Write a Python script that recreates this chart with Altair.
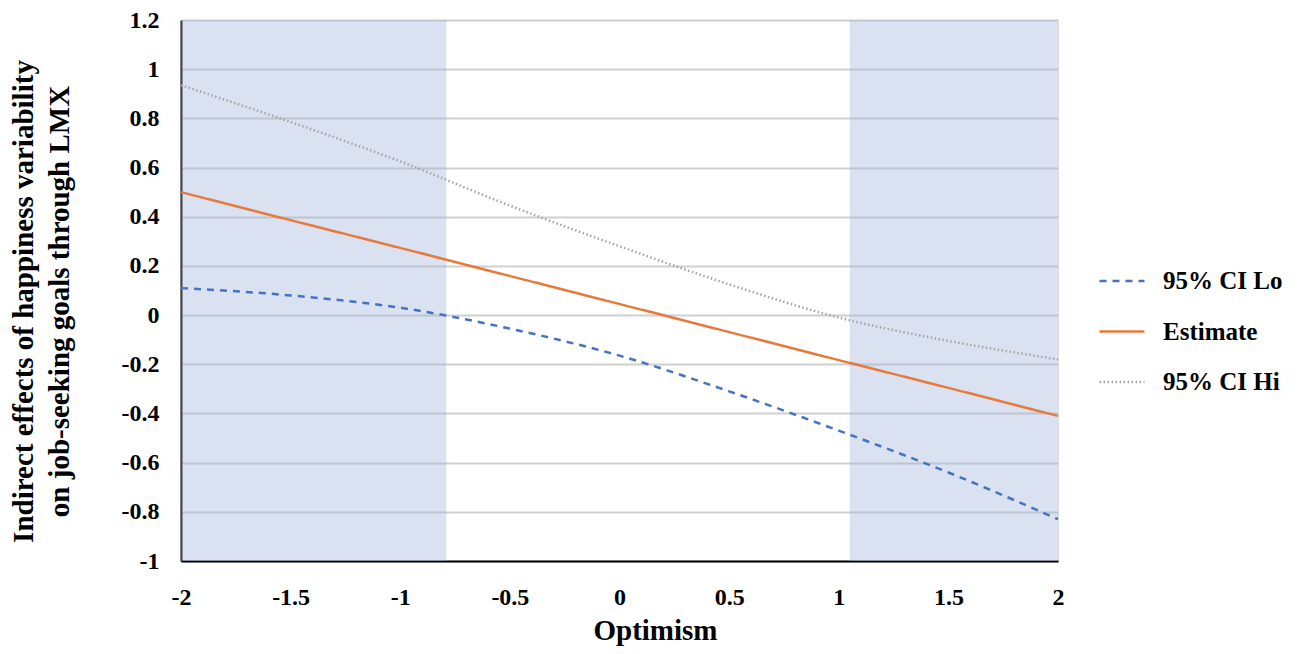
import altair as alt
import pandas as pd

# ---- data ----
x_vals = [-2, -1.5, -1, -0.5, 0, 0.5, 1, 1.5, 2]
ci_lo = [0.11, 0.08, 0.03, -0.055, -0.165, -0.31, -0.47, -0.64, -0.83]
estimate = [0.50, 0.386, 0.273, 0.159, 0.045, -0.069, -0.183, -0.296, -0.41]
ci_hi = [0.935, 0.785, 0.625, 0.445, 0.28, 0.125, -0.01, -0.105, -0.18]

series_names = ["95% CI Lo", "Estimate", "95% CI Hi"]
series_colors = ["#4472C4", "#E8793A", "#A5A5A5"]
series_dash = [[7, 6], [1, 0], [1.5, 2.5]]
series_width = [2.5, 2.5, 1.6]

region_start = [-2, 1.05]
region_end = [-0.79, 2]

y_ticks = [-1, -0.8, -0.6, -0.4, -0.2, 0, 0.2, 0.4, 0.6, 0.8, 1, 1.2]
x_ticks = [-2, -1.5, -1, -0.5, 0, 0.5, 1, 1.5, 2]

rows = []
for name, vals in zip(series_names, [ci_lo, estimate, ci_hi]):
    for xv, yv in zip(x_vals, vals):
        rows.append({"x": xv, "y": yv, "series": name})
df = pd.DataFrame(rows)

regions = pd.DataFrame({"x1": region_start, "x2": region_end, "y1": [-1, -1], "y2": [1.2, 1.2]})

FONT = "Liberation Serif"
LABEL_EXPR = "replace(format(datum.value, '.1~f'), '\u2212', '-')"

x_scale = alt.Scale(domain=[-2, 2], nice=False, zero=False)
y_scale = alt.Scale(domain=[-1, 1.2], nice=False, zero=False)

shade = alt.Chart(regions).mark_rect(color="#9fb1d9", opacity=0.38).encode(
    x=alt.X("x1:Q", scale=x_scale,
            axis=alt.Axis(values=x_ticks, title="Optimism", grid=False,
                          labelExpr=LABEL_EXPR, labelFlush=False,
                          domainColor="black", domainWidth=2, ticks=False,
                          labelFont=FONT, labelFontWeight="bold", labelFontSize=24,
                          labelColor="black", labelPadding=24,
                          titleFont=FONT, titleFontWeight="bold", titleFontSize=29,
                          titleColor="black", titleX=474, titleY=78,
                          titleBaseline="alphabetic", titleAlign="center")),
    x2="x2:Q",
    y=alt.Y("y1:Q", scale=y_scale,
            axis=alt.Axis(values=y_ticks,
                          title=["Indirect effects of happiness variability",
                                 "on job-seeking goals through LMX"],
                          labelExpr=LABEL_EXPR, labelFlush=False,
                          grid=True, gridColor="#d0d0d0", gridWidth=1.8,
                          domainColor="black", domainWidth=2, ticks=False,
                          labelFont=FONT, labelFontWeight="bold", labelFontSize=24,
                          labelColor="black", labelPadding=22,
                          titleFont=FONT, titleFontWeight="bold", titleFontSize=29,
                          titleColor="black", titleX=-172, titleY=281,
                          titleAngle=270, titleBaseline="top", titleAlign="center",
                          titleLineHeight=36)),
    y2="y2:Q",
)

legend_cfg = dict(title=None, orient="none", legendX=917, legendY=237,
                  symbolType="stroke", symbolSize=2025,
                  symbolStrokeWidth=2.5, labelFont=FONT,
                  labelFontWeight="bold", labelFontSize=25,
                  labelColor="black", labelOffset=17,
                  rowPadding=13.5, padding=0)

lines = alt.Chart(df).mark_line(interpolate="monotone").encode(
    x=alt.X("x:Q", scale=x_scale),
    y=alt.Y("y:Q", scale=y_scale),
    color=alt.Color("series:N",
                    scale=alt.Scale(domain=series_names, range=series_colors),
                    sort=series_names, legend=alt.Legend(**legend_cfg)),
    strokeDash=alt.StrokeDash("series:N",
                              scale=alt.Scale(domain=series_names, range=series_dash),
                              sort=series_names, legend=alt.Legend(**legend_cfg)),
    strokeWidth=alt.StrokeWidth("series:N",
                                scale=alt.Scale(domain=series_names, range=series_width),
                                legend=None),
    order=alt.Order("x:Q"),
)

chart = alt.layer(shade, lines).properties(
    width=877, height=541,
    autosize=alt.AutoSizeParams(type="none"),
    padding={"left": 173, "top": 12, "right": 238, "bottom": 85},
).configure_view(stroke=None).configure(background="white")

chart.save("out.html", embed_options={"renderer": "svg", "actions": False})
